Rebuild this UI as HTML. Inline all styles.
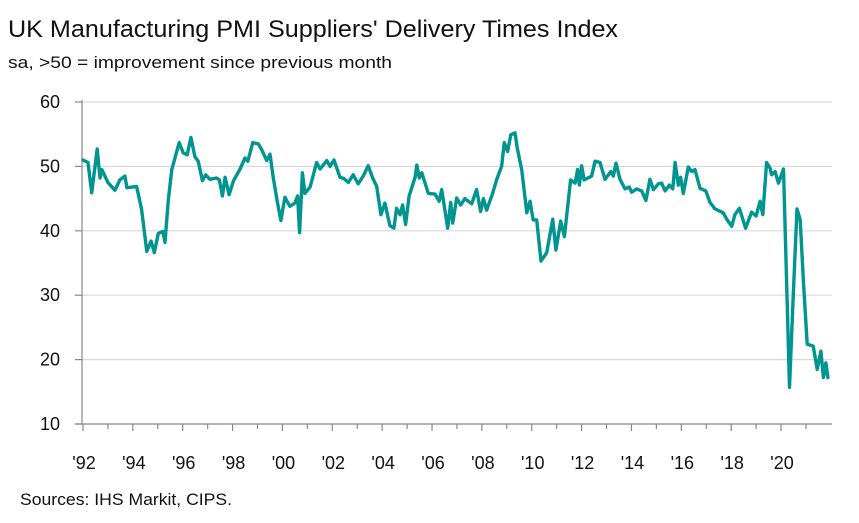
<!DOCTYPE html>
<html><head><meta charset="utf-8"><style>
body{margin:0;background:#fff;width:859px;height:518px;overflow:hidden;font-family:"Liberation Sans",sans-serif;}
svg text{font-family:"Liberation Sans",sans-serif;}
</style></head><body>
<svg id="chart" width="859" height="518" xmlns="http://www.w3.org/2000/svg">
<text x="8" y="37" font-size="24" fill="#111" textLength="610" lengthAdjust="spacingAndGlyphs">UK Manufacturing PMI Suppliers' Delivery Times Index</text>
<text x="8" y="68" font-size="17" fill="#111" textLength="384" lengthAdjust="spacingAndGlyphs">sa, &gt;50 = improvement since previous month</text>
<text x="20" y="505" font-size="17" fill="#111" textLength="212" lengthAdjust="spacingAndGlyphs">Sources: IHS Markit, CIPS.</text>
<g id="grid"></g><g id="axes"></g><g id="series"></g>
</svg>
<script>
const yTicks=[10,20,30,40,50,60];
const xLabels=["'92","'94","'96","'98","'00","'02","'04","'06","'08","'10","'12","'14","'16","'18","'20"];
const dates=[1992.00,1992.20,1992.35,1992.57,1992.68,1992.76,1993.00,1993.28,1993.48,1993.68,1993.76,1994.15,1994.35,1994.56,1994.73,1994.86,1995.02,1995.20,1995.29,1995.42,1995.56,1995.86,1996.02,1996.18,1996.33,1996.49,1996.62,1996.79,1996.92,1997.09,1997.36,1997.47,1997.59,1997.70,1997.86,1998.03,1998.30,1998.50,1998.61,1998.81,1999.03,1999.17,1999.37,1999.50,1999.63,1999.79,1999.94,2000.10,2000.30,2000.50,2000.61,2000.69,2000.80,2000.90,2001.11,2001.37,2001.51,2001.78,2001.91,2002.07,2002.31,2002.47,2002.64,2002.84,2003.04,2003.24,2003.44,2003.62,2003.78,2003.95,2004.11,2004.31,2004.47,2004.58,2004.72,2004.82,2004.94,2005.08,2005.32,2005.39,2005.49,2005.59,2005.85,2006.12,2006.29,2006.39,2006.63,2006.75,2006.83,2006.99,2007.15,2007.32,2007.59,2007.79,2007.95,2008.06,2008.19,2008.43,2008.59,2008.79,2008.90,2009.03,2009.16,2009.33,2009.42,2009.60,2009.80,2009.93,2010.06,2010.20,2010.37,2010.60,2010.84,2010.97,2011.16,2011.31,2011.56,2011.74,2011.84,2011.91,2012.00,2012.10,2012.40,2012.54,2012.74,2012.94,2013.17,2013.27,2013.38,2013.54,2013.74,2013.91,2014.01,2014.21,2014.41,2014.58,2014.74,2014.88,2015.08,2015.21,2015.35,2015.52,2015.66,2015.75,2015.88,2015.97,2016.08,2016.28,2016.42,2016.55,2016.75,2016.98,2017.15,2017.35,2017.68,2017.84,2018.02,2018.15,2018.33,2018.58,2018.82,2019.00,2019.16,2019.27,2019.42,2019.56,2019.62,2019.76,2019.90,2020.10,2020.34,2020.50,2020.64,2020.77,2020.90,2021.05,2021.29,2021.45,2021.60,2021.70,2021.80,2021.88];
const values=[51.0,50.6,45.9,52.7,48.2,49.5,47.5,46.3,47.9,48.5,46.7,46.9,43.3,36.8,38.4,36.6,39.6,39.9,38.2,44.8,49.5,53.7,52.1,51.8,54.5,51.5,50.8,47.8,48.7,48.0,48.2,47.9,45.4,48.3,45.6,47.7,49.6,51.3,50.8,53.7,53.5,52.6,50.9,51.9,48.3,44.6,41.6,45.2,43.8,44.3,45.4,39.7,49.0,45.8,46.8,50.6,49.6,50.9,50.0,51.0,48.3,48.1,47.5,48.7,47.3,48.5,50.1,48.2,46.9,42.5,44.3,40.8,40.4,43.5,42.5,44.0,41.0,45.4,48.3,50.2,48.2,49.0,45.8,45.7,44.6,46.4,40.4,44.4,41.2,45.1,44.0,45.0,44.2,46.4,43.0,45.0,43.2,45.8,47.9,50.0,53.7,52.3,54.9,55.2,52.8,49.4,42.8,44.6,41.7,41.7,35.3,36.6,41.8,37.0,41.5,39.1,47.9,47.4,49.5,47.1,50.1,47.9,48.5,50.8,50.6,48.0,49.2,48.5,50.5,48.0,46.5,46.8,46.0,46.5,46.2,44.7,48.0,46.4,47.3,47.4,46.2,47.1,46.5,50.6,47.1,48.3,45.8,49.9,49.2,49.5,46.6,46.2,44.4,43.4,42.8,41.7,40.7,42.5,43.5,40.4,42.9,42.3,44.6,42.5,50.6,49.7,48.7,49.2,47.4,49.6,15.7,30.9,43.4,41.7,31.9,22.4,22.1,18.5,21.3,17.2,19.5,17.2];
const NS="http://www.w3.org/2000/svg";
const X0=83,PX_YEAR=24.93,Y10=424,PX_UNIT=6.44;
const xs=d=>X0+(d-1992)*PX_YEAR;
const ys=v=>Y10-(v-10)*PX_UNIT;
function mk(t,a,p){const e=document.createElementNS(NS,t);for(const k in a)e.setAttribute(k,a[k]);p.appendChild(e);return e;}
const grid=document.getElementById('grid'),axes=document.getElementById('axes'),series=document.getElementById('series');
yTicks.forEach(v=>{
  if(v>10){const g=mk('line',{x1:82,x2:832,y1:ys(v),y2:ys(v),stroke:'#d9d9d9','stroke-width':1.2},grid);
  
  }
  const tk=mk('line',{x1:75,x2:82,y1:ys(v),y2:ys(v),stroke:'#888','stroke-width':1.2},axes);
  
  
  const t=mk('text',{x:60,y:ys(v)+6,'text-anchor':'end','font-size':18,fill:'#111'},axes);
  t.textContent=v;
  
  
});
const ya=mk('line',{x1:82,x2:82,y1:ys(60)-2,y2:Y10,stroke:'#888','stroke-width':1.2},axes);


const xa=mk('line',{x1:75,x2:832,y1:Y10,y2:Y10,stroke:'#888','stroke-width':1.2},axes);


for(let y=1992;y<=2021;y++){
  const major=(y%2===0);
  const tk=mk('line',{x1:xs(y),x2:xs(y),y1:Y10,y2:Y10+(major?7:5),stroke:'#888','stroke-width':1.2},axes);
  
  
}
xLabels.forEach((l,i)=>{
  const t=mk('text',{x:xs(1992+2*i)+1,y:469,'text-anchor':'middle','font-size':18,fill:'#111'},axes);
  t.textContent=l;
  
  
});
const pts=dates.map((d,i)=>xs(d).toFixed(1)+','+ys(values[i]).toFixed(1)).join(' ');
const pl=mk('polyline',{points:pts,fill:'none',stroke:'#009590','stroke-width':3.4,'stroke-linejoin':'round','stroke-linecap':'round'},series);


</script>
</body></html>
